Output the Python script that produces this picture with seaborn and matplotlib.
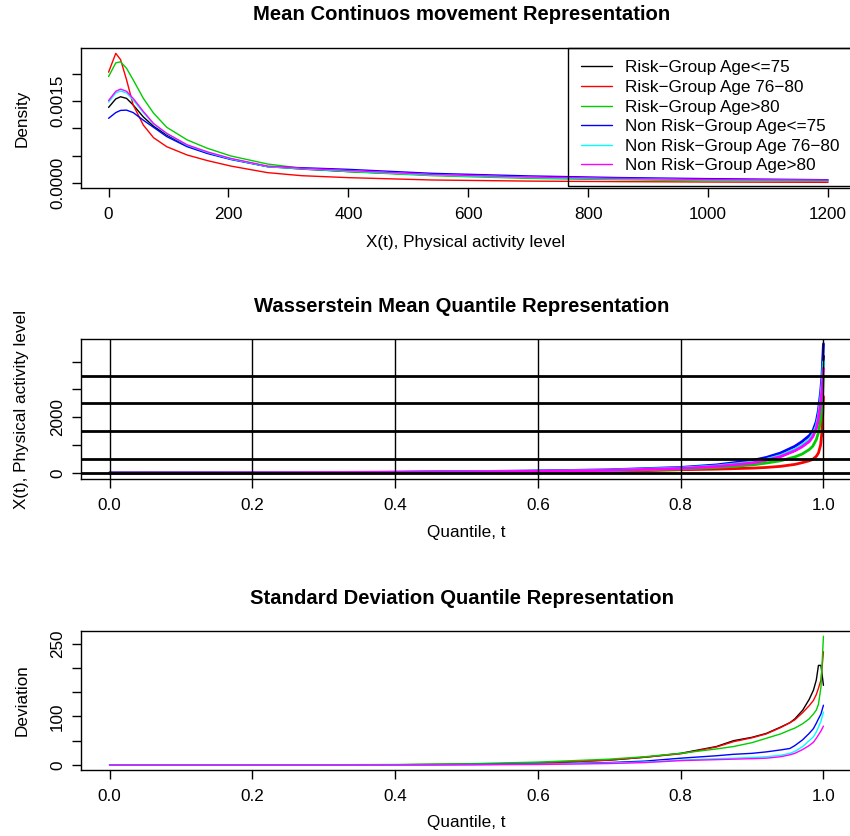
import numpy as np
import pandas as pd
import matplotlib.pyplot as plt
import seaborn as sns

sns.set_theme(style="ticks")
plt.rcParams["font.family"] = ["Liberation Sans", "DejaVu Sans"]
plt.rcParams["axes.linewidth"] = 1.0
plt.rcParams["text.color"] = "black"
plt.rcParams["axes.labelcolor"] = "black"
plt.rcParams["xtick.color"] = "black"
plt.rcParams["ytick.color"] = "black"

W, H = 850, 836
FS = 12.3

groups = ["Risk\u2212Group Age<=75", "Risk\u2212Group Age 76\u221280", "Risk\u2212Group Age>80",
          "Non Risk\u2212Group Age<=75", "Non Risk\u2212Group Age 76\u221280", "Non Risk\u2212Group Age>80"]
colors = ["black", "red", "#00CD00", "blue", "cyan", "magenta"]

# panel 1: density of the mean continuous movement (values in 1e-3)
dens_x = [0, 12, 20, 30, 41, 58, 75, 97, 131, 165, 204, 265, 322, 400, 540, 700, 850, 1000, 1200]
dens_risk_75 = [1.385, 1.54, 1.58, 1.55, 1.43, 1.21, 1.04, 0.88, 0.68, 0.55, 0.44, 0.30, 0.255, 0.21, 0.146, 0.10, 0.072, 0.055, 0.042]
dens_risk_7680 = [2.03, 2.375, 2.26, 1.89, 1.43, 1.06, 0.83, 0.665, 0.513, 0.41, 0.31, 0.19, 0.134, 0.098, 0.055, 0.035, 0.025, 0.018, 0.012]
dens_risk_80 = [1.95, 2.2, 2.22, 2.10, 1.89, 1.55, 1.28, 1.02, 0.79, 0.635, 0.495, 0.348, 0.27, 0.207, 0.134, 0.085, 0.06, 0.045, 0.035]
dens_non_75 = [1.185, 1.29, 1.33, 1.335, 1.29, 1.15, 1.02, 0.85, 0.665, 0.54, 0.43, 0.30, 0.28, 0.25, 0.177, 0.13, 0.10, 0.08, 0.06]
dens_non_7680 = [1.48, 1.65, 1.685, 1.65, 1.52, 1.29, 1.08, 0.90, 0.69, 0.56, 0.44, 0.30, 0.26, 0.22, 0.146, 0.10, 0.075, 0.058, 0.045]
dens_non_80 = [1.51, 1.68, 1.72, 1.68, 1.55, 1.31, 1.09, 0.91, 0.70, 0.57, 0.45, 0.31, 0.27, 0.23, 0.157, 0.11, 0.085, 0.065, 0.05]

# panel 2: Wasserstein mean quantile functions
wq_t = [0, 0.2, 0.4, 0.5, 0.6, 0.7, 0.8, 0.85, 0.9, 0.92, 0.94, 0.96, 0.97, 0.98, 0.985, 0.99, 0.993, 0.996, 0.998, 1.0]
wq_risk_75 = [0, 8, 24, 40, 62, 95, 170, 245, 375, 475, 610, 820, 970, 1160, 1340, 1650, 2000, 2600, 3100, 4200]
wq_risk_7680 = [0, 4, 12, 20, 30, 50, 118, 140, 175, 200, 240, 310, 370, 440, 490, 600, 720, 1000, 1500, 2746]
wq_risk_80 = [0, 6, 20, 32, 50, 80, 143, 200, 290, 358, 440, 580, 680, 840, 960, 1200, 1450, 1900, 2400, 3500]
wq_non_75 = [0, 10, 30, 50, 75, 115, 200, 290, 450, 560, 720, 960, 1130, 1340, 1500, 1850, 2250, 2900, 3500, 4640]
wq_non_7680 = [0, 8, 25, 42, 65, 100, 180, 255, 390, 490, 630, 850, 1000, 1200, 1380, 1700, 2050, 2650, 3200, 4000]
wq_non_80 = [0, 8, 24, 40, 62, 95, 165, 235, 360, 460, 590, 800, 940, 1130, 1300, 1600, 1950, 2500, 3000, 3760]
wq_hlines = [0, 500, 1500, 2500, 3500]
wq_vlines = [0, 0.2, 0.4, 0.6, 0.8, 1.0]

# panel 3: standard deviation quantile functions
sd_t = [0, 0.2, 0.4, 0.5, 0.6, 0.7, 0.75, 0.8, 0.85, 0.874, 0.9, 0.92, 0.94, 0.953, 0.96, 0.971, 0.98, 0.986, 0.99, 0.993, 0.9965, 1.0]
sd_risk_75 = [0, 0, 0.5, 1.5, 4, 10, 16, 24, 38, 50, 57, 65, 78, 87, 95, 113, 135, 154, 175, 205, 205, 164]
sd_risk_7680 = [0, 0, 0.5, 1.5, 4, 10, 16, 23, 37, 48, 56, 64, 77, 87, 93, 108, 122, 133, 145, 158, 175, 233]
sd_risk_80 = [0, 0, 1, 2.5, 6, 12, 17, 24, 33, 38, 46, 55, 64, 72, 76, 85, 95, 105, 113, 125, 160, 265]
sd_non_75 = [0, 0, 0.3, 0.8, 2, 5, 8, 14, 19, 22, 24, 27, 31, 34, 40, 52, 65, 75, 86, 95, 105, 123]
sd_non_7680 = [0, 0, 0.2, 0.6, 1.5, 4, 6, 10, 13, 14, 15.5, 17, 20, 24, 28, 38, 50, 58, 68, 78, 90, 109]
sd_non_80 = [0, 0, 0.2, 0.5, 1, 3, 5, 9, 11, 12, 13, 14, 17, 21, 24, 32, 40, 47, 55, 62, 70, 80]


def long_df(x, series, scale=1.0):
    parts = []
    for g, s in zip(groups, series):
        parts.append(pd.DataFrame({"x": x, "y": np.array(s) * scale, "group": g}))
    return pd.concat(parts, ignore_index=True)


def px_axes(top, bottom, left=81, right=852):
    return [left / W, 1 - bottom / H, (right - left) / W, (bottom - top) / H]


def style_axes(ax):
    for sp in ax.spines.values():
        sp.set_color("black")
        sp.set_linewidth(1.0)
    ax.tick_params(axis="both", direction="out", length=6.5, width=1.0, color="black",
                   labelsize=FS, labelcolor="black")
    ax.tick_params(axis="x", pad=7)
    ax.tick_params(axis="y", pad=4.9)
    plt.setp(ax.get_yticklabels(), rotation=90, va="center")
    ax.set_xlabel("")
    ax.set_ylabel("")


def fig_text(x, y, s, **kw):
    fig.text(x / W, 1 - y / H, s, ha="center", va="center", fontsize=FS, color="black", **kw)


fig = plt.figure(figsize=(W / 100, H / 100), dpi=100)
palette = dict(zip(groups, colors))

# ---- panel 1
ax1 = fig.add_axes(px_axes(48, 188))
d1 = long_df(dens_x, [dens_risk_75, dens_risk_7680, dens_risk_80, dens_non_75, dens_non_7680, dens_non_80], 1e-3)
sns.lineplot(data=d1, x="x", y="y", hue="group", hue_order=groups, palette=palette,
             estimator=None, sort=False, lw=1.0, ax=ax1)
ax1.set_xlim(-46, 1240)
ax1.set_ylim(-0.0000916, 0.002473)
ax1.set_xticks(range(0, 1201, 200))
ax1.set_yticks([0, 0.0005, 0.001, 0.0015, 0.002])
ax1.set_yticklabels(["0.0000", "", "", "0.0015", ""])
style_axes(ax1)
sns.move_legend(ax1, "upper right", bbox_to_anchor=(1, 1), title=None, frameon=True,
                fancybox=False, edgecolor="black", facecolor="none", fontsize=FS,
                handlelength=1.8, handletextpad=0.8, borderpad=0.72, labelspacing=0.27,
                borderaxespad=0)
leg = ax1.get_legend()
leg.get_frame().set_linewidth(1.0)
leg.get_frame().set_alpha(None)
for ln in leg.get_lines():
    ln.set_linewidth(1.0)
for txt in leg.get_texts():
    txt.set_color("black")

# ---- panel 2
ax2 = fig.add_axes(px_axes(339, 479))
d2 = long_df(wq_t, [wq_risk_75, wq_risk_7680, wq_risk_80, wq_non_75, wq_non_7680, wq_non_80])
sns.lineplot(data=d2, x="x", y="y", hue="group", hue_order=groups, palette=palette,
             estimator=None, sort=False, lw=2.0, ax=ax2, legend=False)
for h in wq_hlines:
    ax2.axhline(h, color="black", lw=2.0, zorder=3)
for v in wq_vlines:
    ax2.axvline(v, color="black", lw=1.0, zorder=3)
ax2.set_xlim(-0.04, 1.04)
ax2.set_ylim(-215, 4814)
ax2.set_xticks(wq_vlines)
ax2.set_xticklabels(["0.0", "0.2", "0.4", "0.6", "0.8", "1.0"])
ax2.set_yticks([0, 1000, 2000, 3000, 4000])
ax2.set_yticklabels(["0", "", "2000", "", ""])
style_axes(ax2)

# ---- panel 3
ax3 = fig.add_axes(px_axes(631, 770))
d3 = long_df(sd_t, [sd_risk_75, sd_risk_7680, sd_risk_80, sd_non_75, sd_non_7680, sd_non_80])
sns.lineplot(data=d3, x="x", y="y", hue="group", hue_order=groups, palette=palette,
             estimator=None, sort=False, lw=1.0, ax=ax3, legend=False)
ax3.set_xlim(-0.04, 1.04)
ax3.set_ylim(-10.3, 275.8)
ax3.set_xticks([0, 0.2, 0.4, 0.6, 0.8, 1.0])
ax3.set_xticklabels(["0.0", "0.2", "0.4", "0.6", "0.8", "1.0"])
ax3.set_yticks([0, 50, 100, 150, 200, 250])
ax3.set_yticklabels(["0", "", "100", "", "", "250"])
style_axes(ax3)

# titles and axis labels
fs_title = 14.6
fig_text(462, 15, "Mean Continuos movement Representation", fontweight="bold")
fig_text(462, 306, "Wasserstein Mean Quantile Representation", fontweight="bold")
fig_text(462, 598, "Standard Deviation Quantile Representation", fontweight="bold")
for t in fig.texts:
    t.set_fontsize(fs_title)
fig_text(466, 242, "X(t), Physical activity level")
fig_text(466, 532, "Quantile, t")
fig_text(466, 823, "Quantile, t")
fig_text(22, 118, "Density", rotation=90)
fig_text(22, 409, "X(t), Physical activity level", rotation=90)
fig_text(22, 700, "Deviation", rotation=90)

fig.savefig("out.png", dpi=100, facecolor="white")
